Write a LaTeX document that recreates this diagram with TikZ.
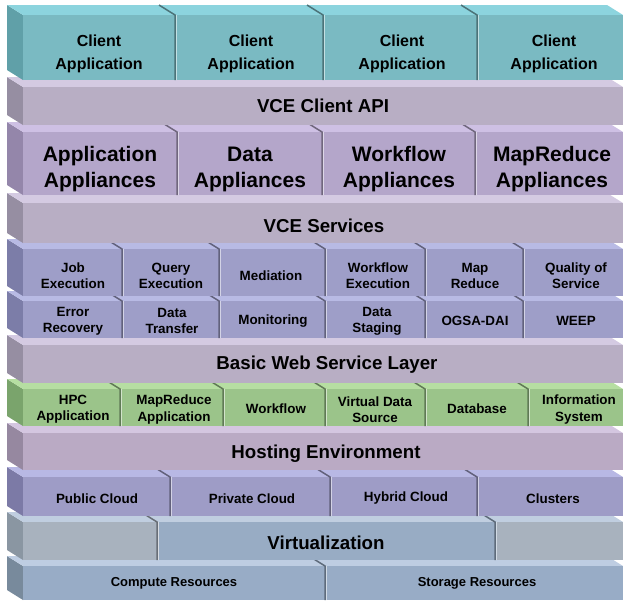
\documentclass[tikz,border=0pt]{standalone}
\usepackage{fontspec}
\setmainfont{Liberation Sans}
\definecolor{tealF}{RGB}{122,186,194}
\definecolor{tealT}{RGB}{140,212,222}
\definecolor{tealS}{RGB}{96,160,168}
\definecolor{mauF}{RGB}{184,174,196}
\definecolor{mauT}{RGB}{212,202,226}
\definecolor{mauS}{RGB}{150,142,162}
\definecolor{appF}{RGB}{180,166,202}
\definecolor{appT}{RGB}{206,192,228}
\definecolor{appS}{RGB}{148,134,170}
\definecolor{svcF}{RGB}{158,158,200}
\definecolor{svcT}{RGB}{184,186,228}
\definecolor{svcS}{RGB}{124,125,168}
\definecolor{grnF}{RGB}{155,196,138}
\definecolor{grnT}{RGB}{182,222,162}
\definecolor{grnS}{RGB}{122,164,108}
\definecolor{hosF}{RGB}{186,170,196}
\definecolor{hosT}{RGB}{212,198,224}
\definecolor{hosS}{RGB}{150,136,160}
\definecolor{cldF}{RGB}{158,156,198}
\definecolor{cldT}{RGB}{184,184,228}
\definecolor{cldS}{RGB}{124,122,166}
\definecolor{virG}{RGB}{168,178,190}
\definecolor{virF}{RGB}{152,172,196}
\definecolor{virT}{RGB}{192,206,224}
\definecolor{virS}{RGB}{138,150,162}
\definecolor{resF}{RGB}{152,172,198}
\definecolor{resT}{RGB}{190,205,226}
\definecolor{resS}{RGB}{120,138,156}
\newcommand\slab[5]{%
  \fill[#5] (7,#1-10) -- (23,#1) -- (23,#2) -- (7,#2-10) -- cycle;
  \fill[#4] (7,#1-10) -- (607,#1-10) -- (623,#1) -- (23,#1) -- cycle;
  \fill[#3] (23,#1) rectangle (623,#2);
}
\newcommand\cutline[4]{%
  \draw[#4!62!black, line width=1.5] (#1-16,#2-10) -- (#1,#2) -- (#1,#3);
  \draw[#4!45!white, line width=0.8] (#1+1.4,#2) -- (#1+1.4,#3);
}
\begin{document}
\begin{tikzpicture}[x=1pt,y=-1pt,
  lbl/.style={align=center, inner sep=0pt, text=black},
  fclient/.style={lbl, font=\fontsize{16}{22.5}\selectfont\bfseries},
  fappl/.style={lbl, font=\fontsize{21}{26}\selectfont\bfseries},
  ftitle/.style={lbl, font=\fontsize{18.7}{22}\selectfont\bfseries},
  fcell/.style={lbl, font=\fontsize{13.4}{16.3}\selectfont\bfseries},
  fres/.style={lbl, font=\fontsize{13}{16}\selectfont\bfseries}]
\useasboundingbox[fill=white] (0,0) rectangle (623,600);

% ---- bottom to top ----
% Resources
\slab{566}{600}{resF}{resT}{resS}
\cutline{325}{566}{600}{resF}
\node[fres] (r1) at (174,583.5) {Compute Resources};
\node[fres] (r2) at (477,583.5) {Storage Resources};

% Virtualization
\slab{522}{560}{virF}{virT}{virS}
\fill[virG] (23,522) rectangle (157,560);
\fill[virG] (495,522) rectangle (623,560);
\cutline{157}{522}{560}{virG}
\cutline{495}{522}{560}{virF}
\node[ftitle] (virt) at (326,542.5) {Virtualization};

% Clouds
\slab{477}{516}{cldF}{cldT}{cldS}
\foreach \x in {170,330,477} {\cutline{\x}{477}{516}{cldF}}
\node[fcell] (h1) at (97,498.5) {Public Cloud};
\node[fcell] (h2) at (252,498.5) {Private Cloud};
\node[fcell] (h3) at (406,498.5) {Hybrid Cloud};
\node[fcell] (h4) at (553,498.5) {Clusters};

% Hosting Environment
\slab{433}{470}{hosF}{hosT}{hosS}
\node[ftitle] (host) at (326,453.5) {Hosting Environment};

% Green row
\slab{389}{426}{grnF}{grnT}{grnS}
\foreach \x in {120,223,325,425,528} {\cutline{\x}{389}{426}{grnF}}
\node[fcell] (g1) at (73,409.5) {HPC\\Application};
\node[fcell] (g2) at (174,409.5) {MapReduce\\Application};
\node[fcell] (g3) at (276,409) {Workflow};
\node[fcell] (g4) at (375,409.5) {Virtual Data\\Source};
\node[fcell] (g5) at (477,409) {Database};
\node[fcell] (g6) at (579,409.5) {Information\\System};

% Basic Web Service Layer
\slab{345}{383}{mauF}{mauT}{mauS}
\node[ftitle] (bws) at (327,364.5) {Basic Web Service Layer};

% Services row 2
\slab{301}{338}{svcF}{svcT}{svcS}
\foreach \x in {122,219,325,425,523} {\cutline{\x}{301}{338}{svcF}}
\node[fcell] (s7) at (73,321) {Error\\Recovery};
\node[fcell] (s8) at (172,321) {Data\\Transfer};
\node[fcell] (s9) at (273,321) {Monitoring};
\node[fcell] (s10) at (377,321) {Data\\Staging};
\node[fcell] (s11) at (475,321) {OGSA-DAI};
\node[fcell] (s12) at (576,321) {WEEP};

% Services row 1
\slab{249}{296}{svcF}{svcT}{svcS}
\foreach \x in {122,219,325,425,523} {\cutline{\x}{249}{296}{svcF}}
\node[fcell] (s1) at (73,276) {Job\\Execution};
\node[fcell] (s2) at (171,276) {Query\\Execution};
\node[fcell] (s3) at (271,275.5) {Mediation};
\node[fcell] (s4) at (378,276) {Workflow\\Execution};
\node[fcell] (s5) at (475,276) {Map\\Reduce};
\node[fcell] (s6) at (576,276) {Quality of\\Service};

% VCE Services
\slab{203}{243}{mauF}{mauT}{mauS}
\node[ftitle] (svc) at (324,225.5) {VCE Services};

% Appliances
\slab{132}{195}{appF}{appT}{appS}
\foreach \x in {177,322,475} {\cutline{\x}{132}{195}{appF}}
\node[fappl] (a1) at (100,169) {Application\\Appliances};
\node[fappl] (a2) at (250,169) {Data\\Appliances};
\node[fappl] (a3) at (399,169) {Workflow\\Appliances};
\node[fappl] (a4) at (552,169) {MapReduce\\Appliances};

% VCE Client API
\slab{87}{125}{mauF}{mauT}{mauS}
\node[ftitle] (api) at (323,106) {VCE Client API};

% Client applications
\slab{15}{80}{tealF}{tealT}{tealS}
\foreach \x in {175,323,477} {\cutline{\x}{15}{80}{tealF}}
\node[fclient] (c1) at (99,54) {Client\\Application};
\node[fclient] (c2) at (251,54) {Client\\Application};
\node[fclient] (c3) at (402,54) {Client\\Application};
\node[fclient] (c4) at (554,54) {Client\\Application};
\end{tikzpicture}
\end{document}
